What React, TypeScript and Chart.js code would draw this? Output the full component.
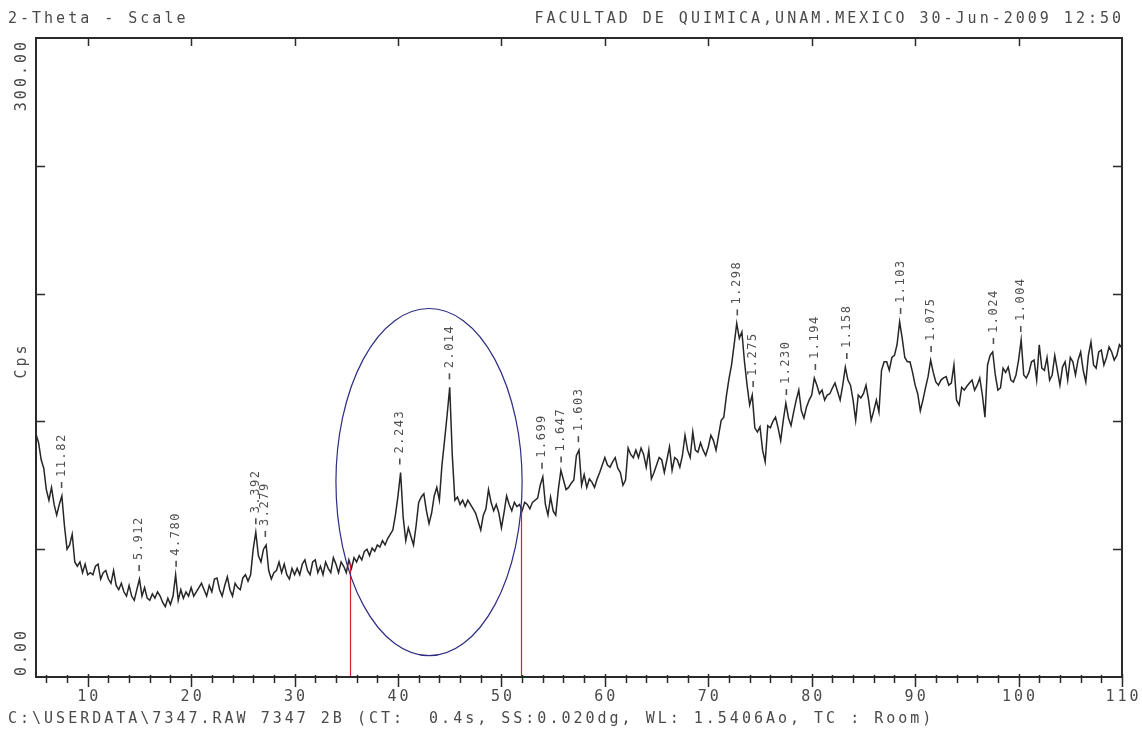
import React, { useEffect, useRef } from "react";
import { Chart, registerables } from "chart.js";

Chart.register(...registerables);

// Scan settings: 2-theta from 5 to 110 degrees, sampled every 0.25 degrees
const START_2THETA = 5;
const STEP_2THETA = 0.25;
const WAVELENGTH = 1.5406; // Cu K-alpha, in angstrom

// Intensity (counts per second), 5.00 - 29.75 deg
const countsLowAngle = [
  114, 110, 102, 98, 88, 83, 89, 81, 76, 81, 85, 71, 60, 62, 67, 54, 52, 54, 49, 53,
  48, 49, 48, 52, 53, 46, 49, 50, 46, 44, 50, 43, 41, 44, 40, 38, 43, 38, 36, 41,
  46, 38, 42, 37, 36, 39, 37, 40, 38, 35, 33, 37, 34, 38, 48, 36, 41, 37, 40, 38,
  42, 38, 40, 42, 44, 41, 38, 43, 40, 46, 46.5, 41, 38, 43, 47, 41, 38, 44, 42, 41,
  46.5, 48, 45, 48, 60, 68, 57, 54, 60, 62, 50, 46, 49, 50, 54, 49, 53, 48, 46, 51,
];

// 30.00 - 54.75 deg
const countsMidAngle = [
  48, 51, 48, 53, 55, 50, 48, 54, 55, 49, 52, 48, 54, 51, 49, 56, 53, 49, 54, 52,
  49, 55, 51, 56, 54, 57, 55, 59, 60, 57, 60.5, 59, 62, 61, 64, 62, 65, 67, 69, 76,
  85, 96, 75, 64, 70, 66, 62, 71, 82, 84.5, 86, 78, 72, 77, 85, 89, 83, 99.5, 111, 123,
  136, 104, 83, 84.5, 81, 83, 80, 83, 81, 79, 77, 73, 69, 76, 79, 88, 82, 78, 81, 77,
  70, 77, 85, 81, 78, 82, 80, 81, 78, 82, 81, 79, 82, 83, 84, 90, 94, 81, 76, 84.5,
];

// 55.00 - 79.75 deg
const countsHighAngle = [
  78, 76, 88, 97, 92.5, 88, 89, 91, 92.5, 104, 106.5, 90, 95, 89, 93, 91.5, 89, 93, 96, 99.5,
  103, 99.5, 98.5, 101, 103, 98, 96, 90, 92.5, 107.5, 104.5, 103, 106.5, 103, 107.5, 104.5, 98.5, 106.5, 93, 96,
  99.5, 103, 102, 96, 102, 108, 97, 103, 102, 98.5, 104, 113.5, 106.5, 103, 115, 106.5, 105.5, 110, 106.5, 104,
  108, 113.5, 111, 106.5, 113.5, 120.5, 122, 132, 140, 146.5, 156, 166, 159, 162, 148, 137, 127.7, 132.4, 117, 115,
  117.4, 106.5, 101, 118, 117, 120, 122, 117, 111, 120.5, 128.6, 121.6, 118, 124.4, 130, 134.7, 125, 121.6, 126.8, 130,
];

// 80.00 - 110.00 deg
const countsBackReflection = [
  132.4, 140.4, 137, 133, 134.7, 130, 132.4, 133, 135.7, 138, 134, 130, 137, 145.5, 139.4, 137, 130, 120.5, 132.4, 131,
  133, 137, 130, 120.5, 125, 130, 124.4, 144, 148, 148, 144, 150, 151, 156, 166.7, 159, 150, 148, 148, 143,
  137, 133, 125, 130, 135.7, 141, 148.8, 143, 138.5, 137, 139.4, 140.4, 141, 137, 138, 146.5, 130, 127.7, 136, 134.7,
  136.5, 138, 139.4, 134.7, 137, 140.4, 132.4, 122, 146.5, 151, 152.6, 141.8, 134.7, 135.7, 145, 143, 145.5, 139.4, 138.5, 141.8,
  148.8, 158.2, 141.8, 140.4, 143, 148, 148.8, 139.4, 156, 145, 144, 150, 139.4, 141.8, 151, 144, 137, 145.5, 148, 139.4,
  150, 148, 141.8, 148.8, 152.6, 144, 138.5, 151, 157.3, 146.5, 145, 152.6, 153.5, 146.5, 150, 155, 152.6, 148.8, 151, 156, 154.5,
];

// Identified reflections, labelled with their d-spacing (angstrom)
const peakDSpacings = [
  "11.82", "5.912", "4.780", "3.392", "3.279", "2.243", "2.014", "1.699", "1.647", "1.603",
  "1.298", "1.275", "1.230", "1.194", "1.158", "1.103", "1.075", "1.024", "1.004",
];

// Axis ticks
const xMajorTicks = [10, 20, 30, 40, 50, 60, 70, 80, 90, 100, 110];
const yInnerTicks = [60, 120, 180, 240];

// Region of interest: marker lines and the encircled reflections
const markerAngles = [35.35, 51.85];
const regionCenter = { x: 43, y: 91.5 };
const regionRadius = { x: 9, y: 81.5 };

const headerLeft = "2-Theta - Scale";
const headerRight = "FACULTAD DE QUIMICA,UNAM.MEXICO 30-Jun-2009 12:50";
const footerText = "C:\\USERDATA\\7347.RAW 7347 2B (CT:  0.4s, SS:0.020dg, WL: 1.5406Ao, TC : Room)";
const yAxisTop = "300.00";
const yAxisBottom = "0.00";
const yAxisTitle = "Cps";

const allCounts = [...countsLowAngle, ...countsMidAngle, ...countsHighAngle, ...countsBackReflection];
const scanPoints = allCounts.map((c, i) => ({ x: START_2THETA + i * STEP_2THETA, y: c }));

const braggAngle = (d: number) => (2 * Math.asin(WAVELENGTH / (2 * d)) * 180) / Math.PI;

const countsAt = (angle: number) => {
  const f = (angle - START_2THETA) / STEP_2THETA;
  const i = Math.max(0, Math.min(allCounts.length - 2, Math.floor(f)));
  const t = f - i;
  return allCounts[i] * (1 - t) + allCounts[i + 1] * t;
};

const localMax = (angle: number, half: number) => {
  let m = -Infinity;
  scanPoints.forEach((p) => {
    if (Math.abs(p.x - angle) <= half) m = Math.max(m, p.y);
  });
  return m;
};

const MONO = '"DejaVu Sans Mono", "Liberation Mono", monospace';
const TEXT_COLOR = "#4a4a4a";
const FRAME_COLOR = "#2a2a2a";

const diffractogramDecor = {
  id: "diffractogramDecor",
  afterDatasetsDraw(chart: any) {
    const { ctx, scales } = chart;
    const xs = scales.x;
    const ys = scales.y;

    // red marker lines from the baseline up to the pattern
    ctx.save();
    ctx.strokeStyle = "#d0202c";
    ctx.lineWidth = 1.2;
    markerAngles.forEach((a) => {
      const px = Math.round(xs.getPixelForValue(a)) + 0.5;
      ctx.beginPath();
      ctx.moveTo(px, ys.getPixelForValue(0));
      ctx.lineTo(px, ys.getPixelForValue(countsAt(a)));
      ctx.stroke();
    });

    // ellipse around the 2.243 / 2.014 reflections
    const cx = xs.getPixelForValue(regionCenter.x);
    const cy = ys.getPixelForValue(regionCenter.y);
    const rx = Math.abs(xs.getPixelForValue(regionCenter.x + regionRadius.x) - cx);
    const ry = Math.abs(ys.getPixelForValue(regionCenter.y + regionRadius.y) - cy);
    ctx.strokeStyle = "#2c2c82";
    ctx.lineWidth = 1.2;
    ctx.beginPath();
    ctx.ellipse(cx, cy, rx, ry, 0, 0, Math.PI * 2);
    ctx.stroke();

    // d-spacing labels above each reflection: a short marker stroke, then the value
    ctx.fillStyle = "#505050";
    ctx.strokeStyle = "#505050";
    ctx.lineWidth = 1.6;
    ctx.font = `12px ${MONO}`;
    (ctx as any).letterSpacing = "1.5px";
    ctx.textAlign = "left";
    ctx.textBaseline = "middle";
    peakDSpacings.forEach((label) => {
      const angle = braggAngle(parseFloat(label));
      const px = xs.getPixelForValue(angle);
      const py = ys.getPixelForValue(localMax(angle, 0.3)) - 8;
      ctx.beginPath();
      ctx.moveTo(px, py);
      ctx.lineTo(px, py - 6);
      ctx.stroke();
      ctx.save();
      ctx.translate(px, py - 11);
      ctx.rotate(-Math.PI / 2);
      ctx.fillText(label, 0, 0);
      ctx.restore();
    });
    ctx.restore();
  },
  afterDraw(chart: any) {
    const { ctx, chartArea, scales } = chart;
    const xs = scales.x;
    const ys = scales.y;
    const { left, right, top, bottom } = chartArea;

    ctx.save();
    // frame
    ctx.strokeStyle = FRAME_COLOR;
    ctx.lineWidth = 2;
    ctx.strokeRect(left, top, right - left, bottom - top);

    // ticks
    ctx.lineWidth = 1.5;
    ctx.beginPath();
    for (let v = 6; v <= 110; v += 2) {
      const px = Math.round(xs.getPixelForValue(v)) + 0.5;
      const major = v % 10 === 0;
      ctx.moveTo(px, bottom - (major ? 3 : 2));
      ctx.lineTo(px, bottom + (major ? 10 : 6));
    }
    xMajorTicks.forEach((v) => {
      if (v >= 110) return;
      const px = Math.round(xs.getPixelForValue(v)) + 0.5;
      ctx.moveTo(px, top);
      ctx.lineTo(px, top + 8);
    });
    yInnerTicks.forEach((v) => {
      const py = Math.round(ys.getPixelForValue(v)) + 0.5;
      ctx.moveTo(left, py);
      ctx.lineTo(left + 9, py);
      ctx.moveTo(right, py);
      ctx.lineTo(right - 9, py);
    });
    ctx.stroke();

    // text
    ctx.fillStyle = TEXT_COLOR;
    ctx.font = `15px ${MONO}`;
    (ctx as any).letterSpacing = "3px";
    ctx.textBaseline = "middle";

    ctx.textAlign = "center";
    xMajorTicks.forEach((v) => {
      ctx.fillText(String(v), xs.getPixelForValue(v) + 1.5, bottom + 20);
    });

    ctx.textAlign = "left";
    ctx.fillText(headerLeft, 8, 19);
    ctx.fillText(footerText, 8, 719);
    ctx.textAlign = "right";
    ctx.fillText(headerRight, right + 2, 19);

    const drawVertical = (text: string, x: number, y: number, align: CanvasTextAlign) => {
      ctx.save();
      ctx.translate(x, y);
      ctx.rotate(-Math.PI / 2);
      ctx.textAlign = align;
      ctx.fillText(text, 0, 0);
      ctx.restore();
    };
    drawVertical(yAxisTop, 22, top + 1, "right");
    drawVertical(yAxisBottom, 22, bottom - 1, "left");
    drawVertical(yAxisTitle, 22, (top + bottom) / 2 + 3, "center");
    ctx.restore();
  },
};

export default function App() {
  const canvasRef = useRef<HTMLCanvasElement | null>(null);

  useEffect(() => {
    if (!canvasRef.current) return;
    const chart = new Chart(canvasRef.current, {
      type: "line",
      data: {
        datasets: [
          {
            data: scanPoints,
            borderColor: "#262626",
            borderWidth: 1.5,
            pointRadius: 0,
            tension: 0,
            fill: false,
          },
        ],
      },
      options: {
        animation: false,
        responsive: false,
        maintainAspectRatio: false,
        layout: { padding: { left: 36, right: 20, top: 38, bottom: 52 } },
        scales: {
          x: { type: "linear", min: 5, max: 110, display: false },
          y: { min: 0, max: 300, display: false },
        },
        plugins: {
          legend: { display: false },
          tooltip: { enabled: false },
        },
      },
      plugins: [diffractogramDecor],
    });
    return () => chart.destroy();
  }, []);

  return (
    <div style={{ position: "fixed", left: 0, top: 0, width: 1142, height: 729, background: "#ffffff" }}>
      <canvas ref={canvasRef} width={1142} height={729} style={{ display: "block" }} />
    </div>
  );
}
